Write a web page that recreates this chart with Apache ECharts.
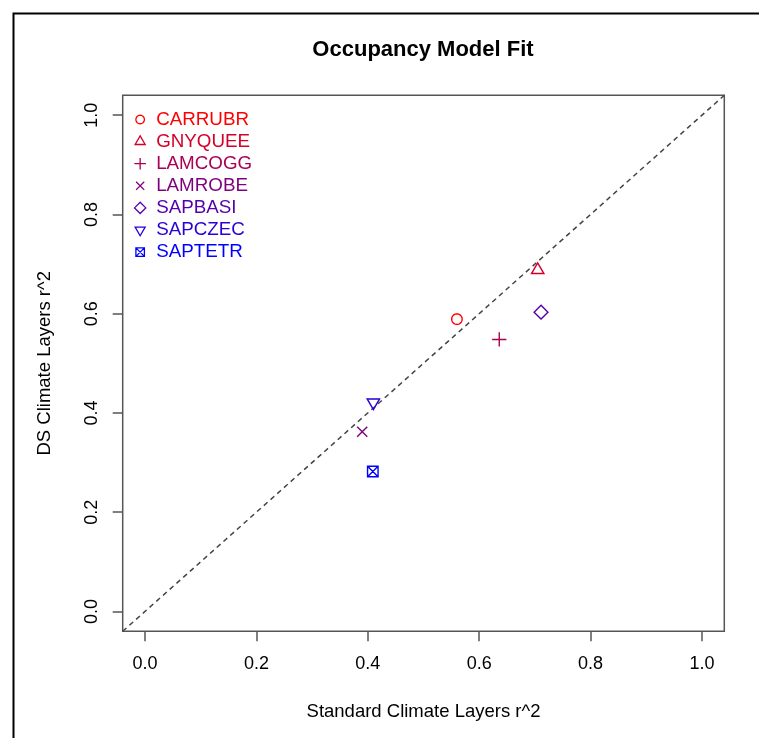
<!DOCTYPE html>
<html>
<head>
<meta charset="utf-8">
<script src="https://cdn.jsdelivr.net/npm/echarts@6/dist/echarts.min.js"></script>
<style>
html,body{margin:0;padding:0;background:#fff;}
#chart{width:759px;height:738px;}
</style>
</head>
<body>
<div id="chart"></div>
<script>
// ---- data ----
var species = ['CARRUBR','GNYQUEE','LAMCOGG','LAMROBE','SAPBASI','SAPCZEC','SAPTETR'];
var standardR2 = [0.560, 0.705, 0.636, 0.390, 0.711, 0.410, 0.409];
var dsR2 = [0.589, 0.688, 0.548, 0.362, 0.603, 0.421, 0.282];
var tickValues = [0, 0.2, 0.4, 0.6, 0.8, 1.0];
var refLine = [[-0.04, -0.04], [1.04, 1.04]];
var colors = ['#FF0000','#D4002A','#AA0055','#7F007F','#5500AA','#2A00D4','#0000FF'];

// ---- symbols (20x20 viewbox, anchored corners) ----
var A = 'M0 0 M20 20 ';
function circlePath(r) {
  var p = '';
  for (var k = 0; k <= 40; k++) {
    var t = k / 40 * Math.PI * 2;
    p += (k === 0 ? 'M' : 'L') + (10 + r * Math.cos(t)).toFixed(3) + ' ' + (10 + r * Math.sin(t)).toFixed(3) + ' ';
  }
  return p + 'Z';
}
var symbols = [
  'path://' + A + circlePath(5),
  'path://' + A + 'M10 3.2 L15.9 13.4 L4.1 13.4 Z',
  'path://' + A + 'M3.2 10 L16.8 10 M10 3.2 L10 16.8',
  'path://' + A + 'M5.2 5.2 L14.8 14.8 M14.8 5.2 L5.2 14.8',
  'path://' + A + 'M10 3.4 L16.6 10 L10 16.6 L3.4 10 Z',
  'path://' + A + 'M10 16.8 L15.9 6.6 L4.1 6.6 Z',
  'path://' + A + 'M5 5 L15 5 L15 15 L5 15 Z M5 5 L15 15 M15 5 L5 15'
];

var FONT = "'Liberation Sans', Arial, Helvetica, sans-serif";
var chart = echarts.init(document.getElementById('chart'), null, {renderer:'canvas'});

var series = [{
  type: 'line',
  data: refLine,
  symbol: 'none',
  silent: true,
  lineStyle: {color: '#444', width: 1.5, type: [5, 4]},
  z: 1
}];
species.forEach(function (s, i) {
  series.push({
    name: s,
    type: 'scatter',
    data: [[standardR2[i], dsR2[i]]],
    symbol: symbols[i],
    symbolSize: 21,
    symbolKeepAspect: true,
    itemStyle: {color: 'rgba(0,0,0,0)', borderColor: colors[i], borderWidth: 1.4, opacity: 1},
    z: 3
  });
});

chart.setOption({
  animation: false,
  backgroundColor: '#fff',
  title: {
    text: 'Occupancy Model Fit',
    left: 423,
    top: 39,
    padding: 0,
    textAlign: 'center',
    textStyle: {fontFamily: FONT, fontSize: 22, fontWeight: 'bold', color: '#000'}
  },
  graphic: [{
    type: 'rect',
    shape: {x: 13.5, y: 13.5, width: 900, height: 900},
    style: {fill: 'none', stroke: '#000', lineWidth: 2},
    silent: true,
    z: -1
  }],
  legend: {
    orient: 'vertical',
    left: 131,
    top: 110,
    padding: 0,
    itemWidth: 22,
    itemHeight: 17,
    itemGap: 3.1,
    symbolKeepAspect: true,
    itemStyle: {borderWidth: 1.3},
    textStyle: {fontFamily: FONT, fontSize: 18.8, lineHeight: 18},
    data: species.map(function (s, i) { return {name: s, textStyle: {color: colors[i]}}; })
  },
  grid: {
    left: 122.7, top: 95.3, right: 34.7, bottom: 106.7,
    show: true, borderColor: '#555', borderWidth: 1.5, backgroundColor: 'transparent'
  },
  xAxis: {
    type: 'value', min: -0.04, max: 1.04,
    name: 'Standard Climate Layers r^2',
    nameLocation: 'middle', nameGap: 71,
    nameTextStyle: {fontFamily: FONT, fontSize: 18.5, color: '#000'},
    axisLine: {show: false, onZero: false},
    splitLine: {show: false},
    axisTick: {show: true, inside: false, length: 10, customValues: tickValues, lineStyle: {color: '#555', width: 1.5}},
    axisLabel: {customValues: tickValues, margin: 24, fontFamily: FONT, fontSize: 18, color: '#000',
      formatter: function (v) { return v.toFixed(1); }}
  },
  yAxis: {
    type: 'value', min: -0.04, max: 1.04,
    name: 'DS Climate Layers r^2',
    nameLocation: 'middle', nameGap: 68, nameRotate: 90,
    nameTextStyle: {fontFamily: FONT, fontSize: 18.5, color: '#000'},
    axisLine: {show: false, onZero: false},
    splitLine: {show: false},
    axisTick: {show: true, inside: false, length: 10, customValues: tickValues, lineStyle: {color: '#555', width: 1.5}},
    axisLabel: {customValues: tickValues, margin: 22, rotate: 90, fontFamily: FONT, fontSize: 18, color: '#000',
      formatter: function (v) { return v.toFixed(1); }}
  },
  series: series
});
</script>
</body>
</html>
